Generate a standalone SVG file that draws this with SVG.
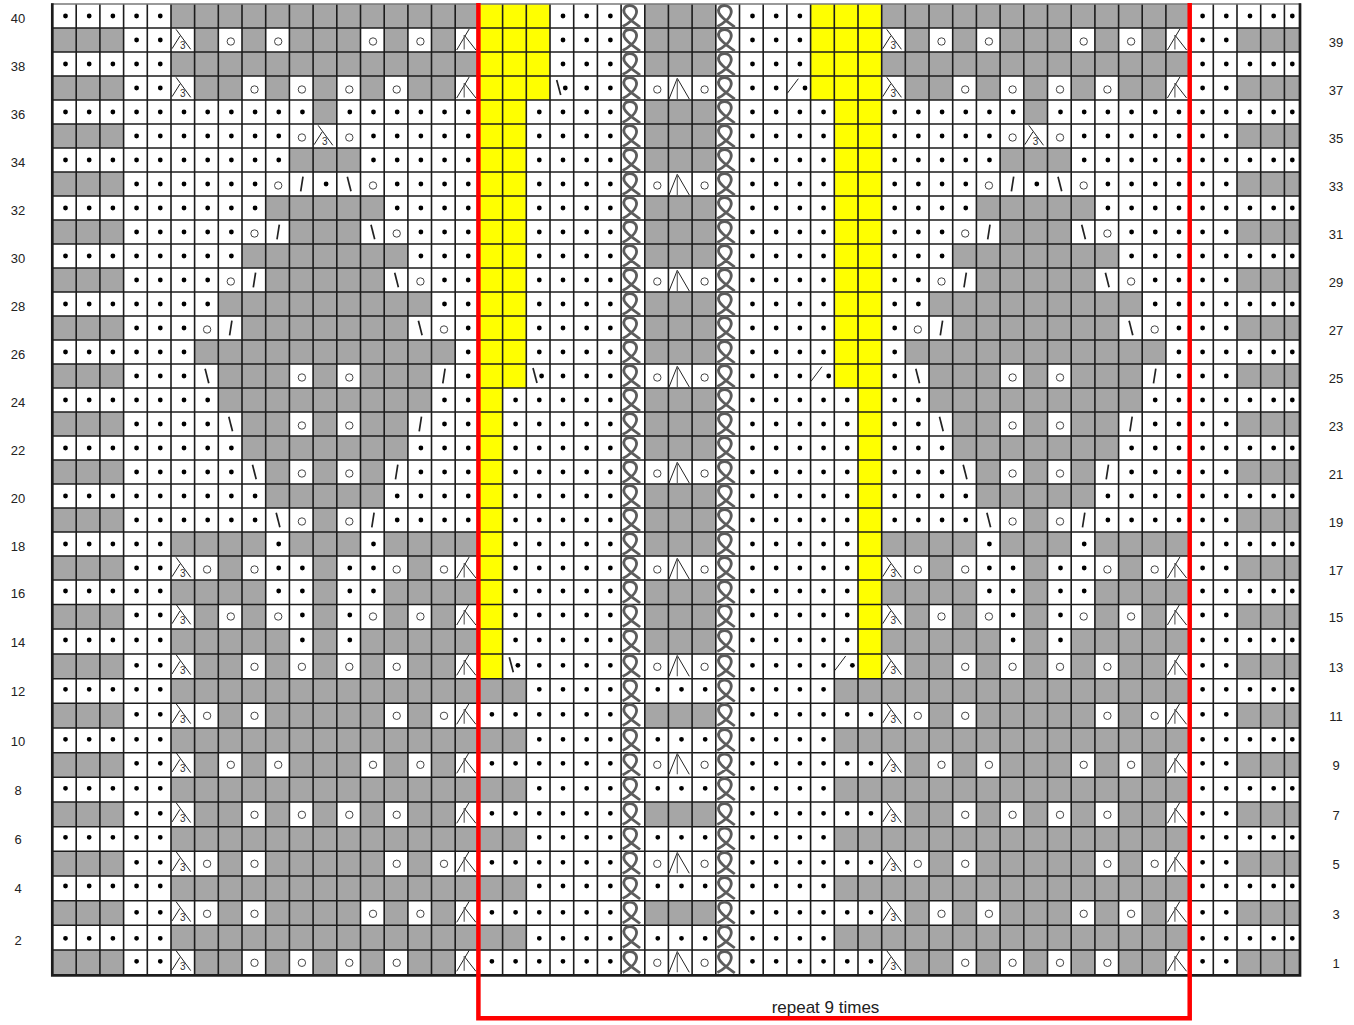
<svg xmlns="http://www.w3.org/2000/svg" width="1354" height="1025" viewBox="0 0 1354 1025">
<style>
.w{fill:none;stroke:#fff;stroke-width:24}
.W{fill:none;stroke:#fff;stroke-width:24.7}
.d{fill:none;stroke:#000;stroke-width:4.8;stroke-linecap:round;stroke-dasharray:0 23.69}
.g{fill:none;stroke:#1c1c1c;stroke-width:1.6}
.l1{fill:none;stroke:#222;stroke-width:1}
.l2{fill:none;stroke:#222;stroke-width:1.7}
.l3{fill:none;stroke:#666;stroke-width:1.2}
.c{fill:none;stroke:#444;stroke-width:1}
.k{fill:none;stroke:#5c5c5c;stroke-width:2.8}
.n{font-family:"Liberation Sans",Arial,sans-serif;font-size:13px;fill:#222;text-anchor:middle}
.t{font-family:"Liberation Sans",Arial,sans-serif;font-size:10px;fill:#333;text-anchor:middle}
</style>
<defs>
<g id="t"><path class="l1" d="M5 1.3 19.7 21.3M1 20.7 9 8"/></g>
<g id="a"><path class="l1" d="M1.5 22 14 1M9 7 20.7 22"/><path class="l3" d="M9 7V21.5"/></g>
<g id="A"><path class="l1" d="M.6 23 8.9 2.3 20.9 23"/><path class="l3" d="M8.9 2.3V23"/></g>
<circle id="o" class="c" cx="12.5" cy="13.5" r="3.7"/>
<path id="s" class="l2" d="M13.6 4.7 11.3 19.3"/>
<path id="b" class="l2" d="M10.5 4.7 14.2 19.3"/>
<g id="bd"><path class="l2" d="M6.7 4 10.7 19"/><circle cx="15.3" cy="12" r="2.4"/></g>
<g id="sd"><path class="l1" d="M11.4 2.7 .4 17.3"/><circle cx="18.1" cy="12" r="2.4"/></g>
<path id="k" class="k" d="M1.5 22.5C7 20 15 14 15.5 8 15.7 3 11 1.5 8.5 1.5 4 1.5 2 5 3 8.5 5 14 13 18.5 19 23"/>
<g id="cc"><use href="#k" x="621.1"/><use href="#k" x="715.8"/></g>
<g id="oAo"><use href="#o" x="644.8"/><use href="#A" x="668.4"/><use href="#o" x="692.1"/></g>
<g id="p1"><use href="#t" x="171"/><use href="#o" x="218.3"/><use href="#o" x="265.7"/><use href="#o" x="360.5"/><use href="#o" x="407.9"/><use href="#a" x="455.2"/></g>
<g id="p2"><use href="#t" x="171"/><use href="#o" x="242"/><use href="#o" x="289.4"/><use href="#o" x="336.8"/><use href="#o" x="384.2"/><use href="#a" x="455.2"/></g>
<g id="p3"><use href="#t" x="171"/><use href="#o" x="194.6"/><use href="#o" x="242"/><use href="#o" x="384.2"/><use href="#o" x="431.5"/><use href="#a" x="455.2"/></g>
</defs>
<rect width="1354" height="1025" fill="#fff"/>
<rect id="ground" x="52.5" y="4" width="1247.5" height="971" fill="#a6a6a6"/>
<path id="columns-white" fill="#fff" d="M123.6 4H171V975H123.6zM1189.6 4H1237V975H1189.6zM550 4H644.8V975H550zM715.8 4H810.6V975H715.8zM526.3 100H550V975H526.3zM810.6 100H834.3V975H810.6zM502.6 388H526.3V678.7H502.6zM834.3 388H858V678.7H834.3z"/>
<path id="yellow" fill="#ff0" d="M478.9 4H550V100H478.9zM810.6 4H881.7V100H810.6zM478.9 100H526.3V388H478.9zM834.3 100H881.7V388H834.3zM478.9 388H502.6V678.7H478.9zM858 388H881.7V678.7H858z"/>
<path class="w" d="M52.5 16H123.6M1237 16H1299M52.5 64H123.6M1237 64H1299M52.5 112H123.6M1237 112H1299M52.5 160H123.6M1237 160H1299M52.5 208H123.6M1237 208H1299M52.5 256H123.6M1237 256H1299M52.5 304H123.6M1237 304H1299M52.5 352H123.6M1237 352H1299M52.5 400H123.6M1237 400H1299M52.5 448H123.6M1237 448H1299M52.5 496H123.6M1237 496H1299M52.5 544H123.6M1237 544H1299M644.8 88H715.8M644.8 184H715.8M644.8 280H715.8M644.8 376H715.8M644.8 472H715.8M644.8 568H715.8"/>
<path class="W" d="M52.5 592.2H123.6M1237 592.2H1299M52.5 641.5H123.6M1237 641.5H1299M52.5 691H123.6M1237 691H1299M52.5 740.4H123.6M1237 740.4H1299M52.5 789.7H123.6M1237 789.7H1299M52.5 839H123.6M1237 839H1299M52.5 888.4H123.6M1237 888.4H1299M52.5 937.7H123.6M1237 937.7H1299M644.8 666.4H715.8M644.8 691H715.8M644.8 740.4H715.8M644.8 765H715.8M644.8 789.7H715.8M644.8 839H715.8M644.8 863.7H715.8M644.8 888.4H715.8M644.8 937.7H715.8M644.8 962.5H715.8M478.9 715.7H526.3M834.3 715.7H881.7M478.9 765H526.3M834.3 765H881.7M478.9 814.4H526.3M834.3 814.4H881.7M478.9 863.7H526.3M834.3 863.7H881.7M478.9 913H526.3M834.3 913H881.7M478.9 962.5H526.3M834.3 962.5H881.7M194.6 913H218.3M242 913H265.7M929 913H952.7M976.4 913H1000.1"/>
<g id="panel-cells">
<path class="w" d="M171 40H194.6M218.3 40H242M265.7 40H289.4M360.5 40H384.2M407.9 40H431.5M455.2 40H478.9M171 88H194.6M242 88H265.7M289.4 88H313.1M336.8 88H360.5M384.2 88H407.9M455.2 88H478.9M171 112H313.1M336.8 112H478.9M171 136H478.9M171 160H289.4M360.5 160H478.9M171 184H478.9M171 208H265.7M384.2 208H478.9M171 232H289.4M360.5 232H478.9M171 256H242M407.9 256H478.9M171 280H265.7M384.2 280H478.9M171 304H218.3M431.5 304H478.9M171 328H242M407.9 328H478.9M171 352H194.6M455.2 352H478.9M171 376H218.3M289.4 376H313.1M336.8 376H360.5M431.5 376H478.9M171 400H218.3M431.5 400H478.9M171 424H242M289.4 424H313.1M336.8 424H360.5M407.9 424H478.9M171 448H242M407.9 448H478.9M171 472H265.7M289.4 472H313.1M336.8 472H360.5M384.2 472H478.9M171 496H265.7M384.2 496H478.9M171 520H313.1M336.8 520H478.9M265.7 544H289.4M360.5 544H384.2M171 568H218.3M242 568H313.1M336.8 568H407.9M431.5 568H478.9"/>
<path class="W" d="M265.7 592.2H313.1M336.8 592.2H384.2M171 616.7H194.6M218.3 616.7H242M265.7 616.7H313.1M336.8 616.7H384.2M407.9 616.7H431.5M455.2 616.7H478.9M289.4 641.5H313.1M336.8 641.5H360.5M171 666.4H194.6M242 666.4H265.7M289.4 666.4H313.1M336.8 666.4H360.5M384.2 666.4H407.9M455.2 666.4H478.9M171 715.7H218.3M242 715.7H265.7M384.2 715.7H407.9M431.5 715.7H478.9M171 765H194.6M218.3 765H242M265.7 765H289.4M360.5 765H384.2M407.9 765H431.5M455.2 765H478.9M171 814.4H194.6M242 814.4H265.7M289.4 814.4H313.1M336.8 814.4H360.5M384.2 814.4H407.9M455.2 814.4H478.9M171 863.7H218.3M242 863.7H265.7M384.2 863.7H407.9M431.5 863.7H478.9M171 913H194.6M360.5 913H384.2M407.9 913H431.5M455.2 913H478.9M171 962.5H194.6M242 962.5H265.7M289.4 962.5H313.1M336.8 962.5H360.5M384.2 962.5H407.9M455.2 962.5H478.9"/>
</g>
<use href="#panel-cells" x="710.7"/>
<path id="grid" class="g" d="M76.2 4V975M99.9 4V975M123.6 4V975M147.3 4V975M171 4V975M194.6 4V975M218.3 4V975M242 4V975M265.7 4V975M289.4 4V975M313.1 4V975M336.8 4V975M360.5 4V975M384.2 4V975M407.9 4V975M431.5 4V975M455.2 4V975M478.9 4V975M502.6 4V975M526.3 4V975M550 4V975M573.7 4V975M597.4 4V975M621.1 4V975M644.8 4V975M668.4 4V975M692.1 4V975M715.8 4V975M739.5 4V975M763.2 4V975M786.9 4V975M810.6 4V975M834.3 4V975M858 4V975M881.7 4V975M905.3 4V975M929 4V975M952.7 4V975M976.4 4V975M1000.1 4V975M1023.8 4V975M1047.5 4V975M1071.2 4V975M1094.9 4V975M1118.6 4V975M1142.2 4V975M1165.9 4V975M1189.6 4V975M1213.3 4V975M1237 4V975M1260.7 4V975M1284.4 4V975M52 28H1300M52 52H1300M52 76H1300M52 100H1300M52 124H1300M52 148H1300M52 172H1300M52 196H1300M52 220H1300M52 244H1300M52 268H1300M52 292H1300M52 316H1300M52 340H1300M52 364H1300M52 388H1300M52 412H1300M52 436H1300M52 460H1300M52 484H1300M52 508H1300M52 532H1300M52 556H1300M52 580H1300M52 604.5H1300M52 629H1300M52 654H1300M52 678.7H1300M52 703.3H1300M52 728H1300M52 752.7H1300M52 777.3H1300M52 802H1300M52 826.7H1300M52 851.3H1300M52 876H1300M52 900.7H1300M52 925.3H1300M52 950H1300"/>
<path id="top-edge" fill="none" stroke="#777" stroke-width="1.5" d="M51 4H1301"/>
<path id="frame" fill="none" stroke="#1c1c1c" stroke-width="2.7" d="M52.3 3.3V975.3H1300V3.3"/>
<g id="panel-left">
<path class="d" d="M184 112h119.4M349.8 112h119.4M184 136h95.8M373.5 136h95.8M184 160h95.8M373.5 160h95.8M184 184h72.1M326.1 184h1M397.2 184h72.1M184 208h72.1M397.2 208h72.1M184 232h48.4M420.9 232h48.4M184 256h48.4M420.9 256h48.4M184 280h24.7M444.5 280h24.7M184 304h24.7M444.5 304h24.7M184 328h1M468.2 328h1M184 352h1M468.2 352h1M184 376h1M468.2 376h1M184 400h24.7M444.5 400h24.7M184 424h24.7M444.5 424h24.7M184 448h48.4M420.9 448h48.4M184 472h48.4M420.9 472h48.4M184 496h72.1M397.2 496h72.1M184 520h72.1M397.2 520h72.1M278.7 544h1M373.5 544h1M278.7 568h24.7M349.8 568h24.7M278.7 591h24.7M349.8 591h24.7M302.4 615h1M349.8 615h1M302.4 640h1M349.8 640h1"/>
<use href="#p1" y="28"/><use href="#p2" y="76"/>
<use href="#o" x="289.4" y="124"/><use href="#t" x="313.1" y="124"/><use href="#o" x="336.8" y="124"/>
<use href="#o" x="265.7" y="172"/><use href="#s" x="289.4" y="172"/><use href="#b" x="336.8" y="172"/><use href="#o" x="360.5" y="172"/>
<use href="#o" x="242" y="220"/><use href="#s" x="265.7" y="220"/><use href="#b" x="360.5" y="220"/><use href="#o" x="384.2" y="220"/>
<use href="#o" x="218.3" y="268"/><use href="#s" x="242" y="268"/><use href="#b" x="384.2" y="268"/><use href="#o" x="407.9" y="268"/>
<use href="#o" x="194.6" y="316"/><use href="#s" x="218.3" y="316"/><use href="#b" x="407.9" y="316"/><use href="#o" x="431.5" y="316"/>
<use href="#b" x="194.6" y="364"/><use href="#o" x="289.4" y="364"/><use href="#o" x="336.8" y="364"/><use href="#s" x="431.5" y="364"/>
<use href="#b" x="218.3" y="412"/><use href="#o" x="289.4" y="412"/><use href="#o" x="336.8" y="412"/><use href="#s" x="407.9" y="412"/>
<use href="#b" x="242" y="460"/><use href="#o" x="289.4" y="460"/><use href="#o" x="336.8" y="460"/><use href="#s" x="384.2" y="460"/>
<use href="#b" x="265.7" y="508"/><use href="#o" x="289.4" y="508"/><use href="#o" x="336.8" y="508"/><use href="#s" x="360.5" y="508"/>
<use href="#p3" y="556"/><use href="#p1" y="603"/><use href="#p2" y="653.3"/><use href="#p3" y="702.3"/><use href="#p1" y="751.3"/><use href="#p2" y="801.3"/><use href="#p3" y="850.3"/><use href="#p2" y="949.3"/>
<use href="#t" x="171" y="900.3"/><use href="#o" x="360.5" y="900.3"/><use href="#o" x="407.9" y="900.3"/><use href="#a" x="455.2" y="900.3"/>
</g>
<use href="#panel-left" x="710.7"/>
<g id="row3-extra"><use href="#o" x="194.6" y="900.3"/><use href="#o" x="242" y="900.3"/><use href="#o" x="929" y="900.3"/><use href="#o" x="976.4" y="900.3"/></g>
<path id="dots-border" class="d" d="M65.5 16h95.8M136.6 40h24.7M65.5 64h95.8M136.6 88h24.7M65.5 112h95.8M136.6 136h24.7M65.5 160h95.8M136.6 184h24.7M65.5 208h95.8M136.6 232h24.7M65.5 256h95.8M136.6 280h24.7M65.5 304h95.8M136.6 328h24.7M65.5 352h95.8M136.6 376h24.7M65.5 400h95.8M136.6 424h24.7M65.5 448h95.8M136.6 472h24.7M65.5 496h95.8M136.6 520h24.7M65.5 544h95.8M136.6 568h24.7M65.5 591h95.8M136.6 615h24.7M65.5 640h95.8M136.6 665.3h24.7M65.5 689.3h95.8M136.6 714.3h24.7M65.5 739.3h95.8M136.6 763.3h24.7M65.5 788.3h95.8M136.6 813.3h24.7M65.5 837.3h95.8M136.6 862.3h24.7M65.5 886h95.8M136.6 912.3h24.7M65.5 938.3h95.8M136.6 961.3h24.7M1202.6 16h72.1M1292.3 16h1M1202.6 40h24.7M1202.6 64h72.1M1292.3 64h1M1202.6 88h24.7M1202.6 112h72.1M1292.3 112h1M1202.6 136h24.7M1202.6 160h72.1M1292.3 160h1M1202.6 184h24.7M1202.6 208h72.1M1292.3 208h1M1202.6 232h24.7M1202.6 256h72.1M1292.3 256h1M1202.6 280h24.7M1202.6 304h72.1M1292.3 304h1M1202.6 328h24.7M1202.6 352h72.1M1292.3 352h1M1202.6 376h24.7M1202.6 400h72.1M1292.3 400h1M1202.6 424h24.7M1202.6 448h72.1M1292.3 448h1M1202.6 472h24.7M1202.6 496h72.1M1292.3 496h1M1202.6 520h24.7M1202.6 544h72.1M1292.3 544h1M1202.6 568h24.7M1202.6 591h72.1M1292.3 591h1M1202.6 615h24.7M1202.6 640h72.1M1292.3 640h1M1202.6 665.3h24.7M1202.6 689.3h72.1M1292.3 689.3h1M1202.6 714.3h24.7M1202.6 739.3h72.1M1292.3 739.3h1M1202.6 763.3h24.7M1202.6 788.3h72.1M1292.3 788.3h1M1202.6 813.3h24.7M1202.6 837.3h72.1M1292.3 837.3h1M1202.6 862.3h24.7M1202.6 886h72.1M1292.3 886h1M1202.6 912.3h24.7M1202.6 938.3h72.1M1292.3 938.3h1M1202.6 961.3h24.7"/>
<path id="dots-center" class="d" d="M563 16h48.4M752.5 16h48.4M563 40h48.4M752.5 40h48.4M563 64h48.4M752.5 64h48.4M586.7 88h24.7M752.5 88h24.7M539.3 112h72.1M752.5 112h72.1M539.3 136h72.1M752.5 136h72.1M539.3 160h72.1M752.5 160h72.1M539.3 184h72.1M752.5 184h72.1M539.3 208h72.1M752.5 208h72.1M539.3 232h72.1M752.5 232h72.1M539.3 256h72.1M752.5 256h72.1M539.3 280h72.1M752.5 280h72.1M539.3 304h72.1M752.5 304h72.1M539.3 328h72.1M752.5 328h72.1M539.3 352h72.1M752.5 352h72.1M563 376h48.4M752.5 376h48.4M515.6 400h95.8M752.5 400h95.8M515.6 424h95.8M752.5 424h95.8M515.6 448h95.8M752.5 448h95.8M515.6 472h95.8M752.5 472h95.8M515.6 496h95.8M752.5 496h95.8M515.6 520h95.8M752.5 520h95.8M515.6 544h95.8M752.5 544h95.8M515.6 568h95.8M752.5 568h95.8M515.6 591h95.8M752.5 591h95.8M515.6 615h95.8M752.5 615h95.8M515.6 640h95.8M752.5 640h95.8M539.3 665.3h72.1M752.5 665.3h72.1M539.3 689.3h72.1M657.8 689.3h48.4M752.5 689.3h72.1M491.9 714.3h119.4M752.5 714.3h119.4M539.3 739.3h72.1M657.8 739.3h48.4M752.5 739.3h72.1M491.9 763.3h119.4M752.5 763.3h119.4M539.3 788.3h72.1M657.8 788.3h48.4M752.5 788.3h72.1M491.9 813.3h119.4M752.5 813.3h119.4M539.3 837.3h72.1M657.8 837.3h48.4M752.5 837.3h72.1M491.9 862.3h119.4M752.5 862.3h119.4M539.3 886h72.1M657.8 886h48.4M752.5 886h72.1M491.9 912.3h119.4M752.5 912.3h119.4M539.3 938.3h72.1M657.8 938.3h48.4M752.5 938.3h72.1M491.9 961.3h119.4M752.5 961.3h119.4"/>
<g id="center-symbols">
<use href="#oAo" y="76"/><use href="#oAo" y="172"/><use href="#oAo" y="268"/><use href="#oAo" y="364"/><use href="#oAo" y="460"/><use href="#oAo" y="556"/><use href="#oAo" y="653.3"/><use href="#oAo" y="751.3"/><use href="#oAo" y="850.3"/><use href="#oAo" y="949.3"/>
<use href="#bd" x="550" y="76"/><use href="#sd" x="786.9" y="76"/><use href="#bd" x="526.3" y="364"/><use href="#sd" x="810.6" y="364"/><use href="#bd" x="502.6" y="653.3"/><use href="#sd" x="834.3" y="653.3"/>
</g>
<g id="cables">
<use href="#cc" y="4"/><use href="#cc" y="28"/><use href="#cc" y="52"/><use href="#cc" y="76"/><use href="#cc" y="100"/><use href="#cc" y="124"/><use href="#cc" y="148"/><use href="#cc" y="172"/><use href="#cc" y="196"/><use href="#cc" y="220"/><use href="#cc" y="244"/><use href="#cc" y="268"/><use href="#cc" y="292"/><use href="#cc" y="316"/><use href="#cc" y="340"/><use href="#cc" y="364"/><use href="#cc" y="388"/><use href="#cc" y="412"/><use href="#cc" y="436"/><use href="#cc" y="460"/><use href="#cc" y="484"/><use href="#cc" y="508"/><use href="#cc" y="532"/><use href="#cc" y="556"/><use href="#cc" y="580"/><use href="#cc" y="604"/><use href="#cc" y="629"/><use href="#cc" y="654"/><use href="#cc" y="678.5"/><use href="#cc" y="703"/><use href="#cc" y="728"/><use href="#cc" y="752.5"/><use href="#cc" y="777"/><use href="#cc" y="802"/><use href="#cc" y="826.5"/><use href="#cc" y="851"/><use href="#cc" y="876"/><use href="#cc" y="900.5"/><use href="#cc" y="925"/><use href="#cc" y="950"/>
</g>
<g id="threes">
<text class="t" x="182.7" y="49">3</text><text class="t" x="893.4" y="49">3</text>
<text class="t" x="182.7" y="97">3</text><text class="t" x="893.4" y="97">3</text>
<text class="t" x="324.8" y="145">3</text><text class="t" x="1035.5" y="145">3</text>
<text class="t" x="182.7" y="577">3</text><text class="t" x="893.4" y="577">3</text>
<text class="t" x="182.7" y="624">3</text><text class="t" x="893.4" y="624">3</text>
<text class="t" x="182.7" y="674.3">3</text><text class="t" x="893.4" y="674.3">3</text>
<text class="t" x="182.7" y="723.3">3</text><text class="t" x="893.4" y="723.3">3</text>
<text class="t" x="182.7" y="772.3">3</text><text class="t" x="893.4" y="772.3">3</text>
<text class="t" x="182.7" y="822.3">3</text><text class="t" x="893.4" y="822.3">3</text>
<text class="t" x="182.7" y="871.3">3</text><text class="t" x="893.4" y="871.3">3</text>
<text class="t" x="182.7" y="921.3">3</text><text class="t" x="893.4" y="921.3">3</text>
<text class="t" x="182.7" y="970.3">3</text><text class="t" x="893.4" y="970.3">3</text>
</g>
<g id="labels-even">
<text class="n" x="18" y="23">40</text><text class="n" x="18" y="71">38</text><text class="n" x="18" y="119">36</text><text class="n" x="18" y="167">34</text><text class="n" x="18" y="215">32</text><text class="n" x="18" y="263">30</text><text class="n" x="18" y="311">28</text><text class="n" x="18" y="359">26</text><text class="n" x="18" y="407">24</text><text class="n" x="18" y="455">22</text><text class="n" x="18" y="503">20</text><text class="n" x="18" y="551">18</text><text class="n" x="18" y="598">16</text><text class="n" x="18" y="647">14</text><text class="n" x="18" y="696">12</text><text class="n" x="18" y="746">10</text><text class="n" x="18" y="795">8</text><text class="n" x="18" y="844">6</text><text class="n" x="18" y="893">4</text><text class="n" x="18" y="945">2</text>
</g>
<g id="labels-odd">
<text class="n" x="1336" y="47">39</text><text class="n" x="1336" y="95">37</text><text class="n" x="1336" y="143">35</text><text class="n" x="1336" y="191">33</text><text class="n" x="1336" y="239">31</text><text class="n" x="1336" y="287">29</text><text class="n" x="1336" y="335">27</text><text class="n" x="1336" y="383">25</text><text class="n" x="1336" y="431">23</text><text class="n" x="1336" y="479">21</text><text class="n" x="1336" y="527">19</text><text class="n" x="1336" y="575">17</text><text class="n" x="1336" y="622">15</text><text class="n" x="1336" y="672">13</text><text class="n" x="1336" y="721">11</text><text class="n" x="1336" y="770">9</text><text class="n" x="1336" y="820">7</text><text class="n" x="1336" y="869">5</text><text class="n" x="1336" y="919">3</text><text class="n" x="1336" y="968">1</text>
</g>
<path id="repeat-bracket" fill="none" stroke="#f00" stroke-width="4.5" d="M478.4 3V1018.3H1189.7V3"/>
<text id="repeat-label" x="825.5" y="1013" font-family="'Liberation Sans',Arial,sans-serif" font-size="17" fill="#222" text-anchor="middle">repeat 9 times</text>
</svg>
